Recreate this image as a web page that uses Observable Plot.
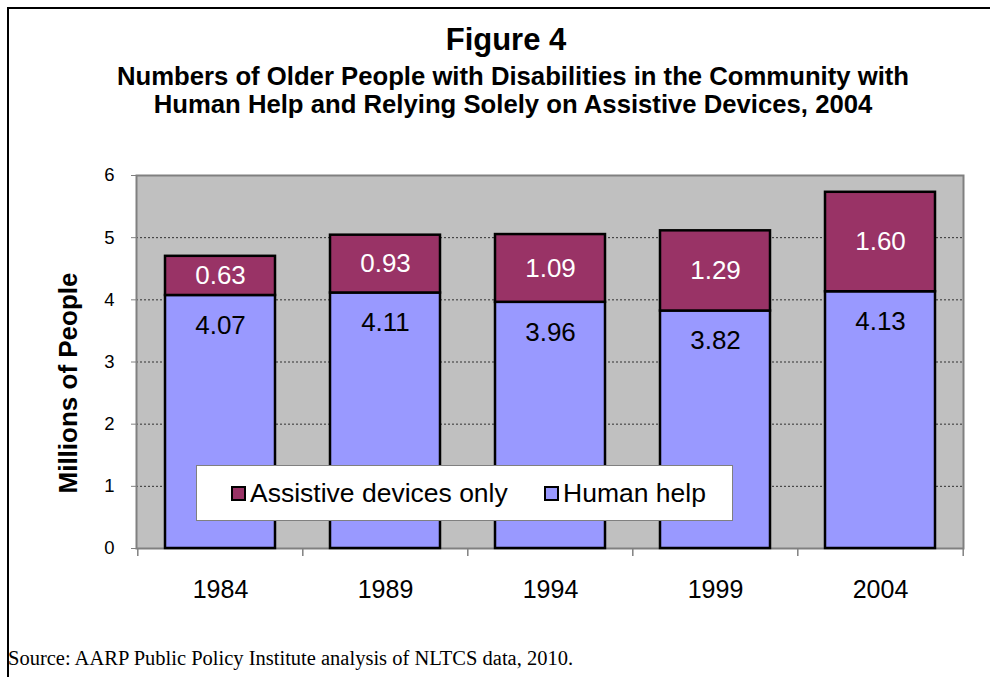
<!DOCTYPE html>
<html>
<head>
<meta charset="utf-8">
<script src="https://cdn.jsdelivr.net/npm/d3@7"></script>
<script src="https://cdn.jsdelivr.net/npm/@observablehq/plot@0.6"></script>
<style>
  html, body { margin: 0; padding: 0; background: #fff; }
  #page { position: relative; width: 990px; height: 677px; overflow: hidden; background: #fff;
          font-family: "Liberation Sans", Arial, sans-serif; color: #000; }
  #edge { position: absolute; left: 7px; top: 7px; width: 1000px; height: 700px;
          border-left: 2px solid #000; border-top: 2px solid #000; }
  .title { position: absolute; width: 960px; text-align: center; font-weight: bold; white-space: nowrap; }
  #fig { left: 26px; top: 24px; font-size: 31px; line-height: 31px; }
  #sub { left: 33px; top: 62px; font-size: 25.7px; line-height: 28px; }
  #chart { position: absolute; left: 0; top: 150px; }
  #legend { position: absolute; left: 196px; top: 465px; width: 537px; height: 56px; box-sizing: border-box;
            background: #fff; border: 1px solid #808080; }
  .item { position: absolute; top: 0; height: 54px; display: flex; align-items: center; font-size: 26.5px; white-space: nowrap; }
  .swatch { width: 15px; height: 15px; box-sizing: border-box; border: 2px solid #000; margin-right: 4px; }
  #source { position: absolute; left: 8px; top: 648px; font-family: "Liberation Serif", "Times New Roman", serif;
            font-size: 20.5px; line-height: 20px; white-space: nowrap; }
</style>
</head>
<body>
<div id="page">
  <div id="edge"></div>
  <div class="title" id="fig">Figure 4</div>
  <div class="title" id="sub">Numbers of Older People with Disabilities in the Community with<br>Human Help and Relying Solely on Assistive Devices, 2004</div>
  <div id="chart"></div>
  <div id="legend"></div>
  <div id="source">Source: AARP Public Policy Institute analysis of NLTCS data, 2010.</div>
</div>
<script>
// Survey years and counts (millions of people)
const years = ["1984", "1989", "1994", "1999", "2004"];
const humanHelp = [4.07, 4.11, 3.96, 3.82, 4.13];
const assistiveOnly = [0.63, 0.93, 1.09, 1.29, 1.60];
const seriesNames = ["Human help", "Assistive devices only"];
const seriesColors = ["#9999FF", "#993366"];
const yTicks = [0, 1, 2, 3, 4, 5, 6];
const yTitle = "Millions of People";

// Layout
const W = 990, H = 470;
const mL = 136, mR = 27, mT = 25, mB = 72;
const frameH = H - mT - mB;
const step = (W - mL - mR) / years.length;

const table = years.map((year, i) => ({year, human: humanHelp[i], assist: assistiveOnly[i]}));
const rows = table.flatMap(d => [
  {year: d.year, series: seriesNames[0], value: d.human},
  {year: d.year, series: seriesNames[1], value: d.assist}
]);

const chart = Plot.plot({
  width: W, height: H,
  marginLeft: mL, marginRight: mR, marginTop: mT, marginBottom: mB,
  style: {fontFamily: '"Liberation Sans", Arial, sans-serif', background: "transparent", overflow: "visible", color: "#000"},
  x: {domain: years, paddingInner: 0.335, paddingOuter: 0.1675, label: null},
  y: {domain: [0, 6], ticks: yTicks, label: null},
  color: {domain: seriesNames, range: seriesColors},
  marks: [
    Plot.frame({fill: "#C0C0C0"}),
    Plot.gridY(yTicks.slice(1, -1), {stroke: "#303030", strokeOpacity: 1, strokeDasharray: "2,2"}),
    Plot.frame({stroke: "#808080", strokeWidth: 2}),
    // category separators below the baseline
    Plot.ruleX(years, {x: d => d, dx: -step / 2, insetTop: frameH, insetBottom: -8, stroke: "#808080", strokeWidth: 1.5}),
    Plot.ruleX(years.slice(-1), {x: d => d, dx: step / 2, insetTop: frameH, insetBottom: -8, stroke: "#808080", strokeWidth: 1.5}),
    Plot.barY(rows, {x: "year", y: "value", fill: "series", order: seriesNames, stroke: "#000", strokeWidth: 2.5}),
    Plot.text(table, {x: "year", y: d => d.human + d.assist / 2, text: d => d.assist.toFixed(2), fill: "#fff", fontSize: 26}),
    Plot.text(table, {x: "year", y: "human", text: d => d.human.toFixed(2), dy: 30, fill: "#000", fontSize: 26}),
    Plot.axisY({ticks: yTicks, tickFormat: d => String(d), tickSize: 5, tickPadding: 17, stroke: "#808080", fill: "#000", fontSize: 18.5}),
    Plot.axisX({tickSize: 0, tickPadding: 32, fill: "#000", fontSize: 25}),
    Plot.text([yTitle], {frameAnchor: "left", textAnchor: "middle", dx: -68, dy: 21, rotate: -90, fontSize: 26, fontWeight: "bold", fill: "#000"})
  ]
});
document.getElementById("chart").appendChild(chart);

// Legend built from the plot's color scale
const color = chart.scale("color");
const legend = document.getElementById("legend");
const itemLeft = [34, 347];
[...color.domain].reverse().forEach((name, k) => {
  const item = document.createElement("div");
  item.className = "item";
  item.style.left = itemLeft[k] + "px";
  const sw = document.createElement("div");
  sw.className = "swatch";
  sw.style.background = color.apply(name);
  item.appendChild(sw);
  item.appendChild(document.createTextNode(name));
  legend.appendChild(item);
});
</script>
</body>
</html>
